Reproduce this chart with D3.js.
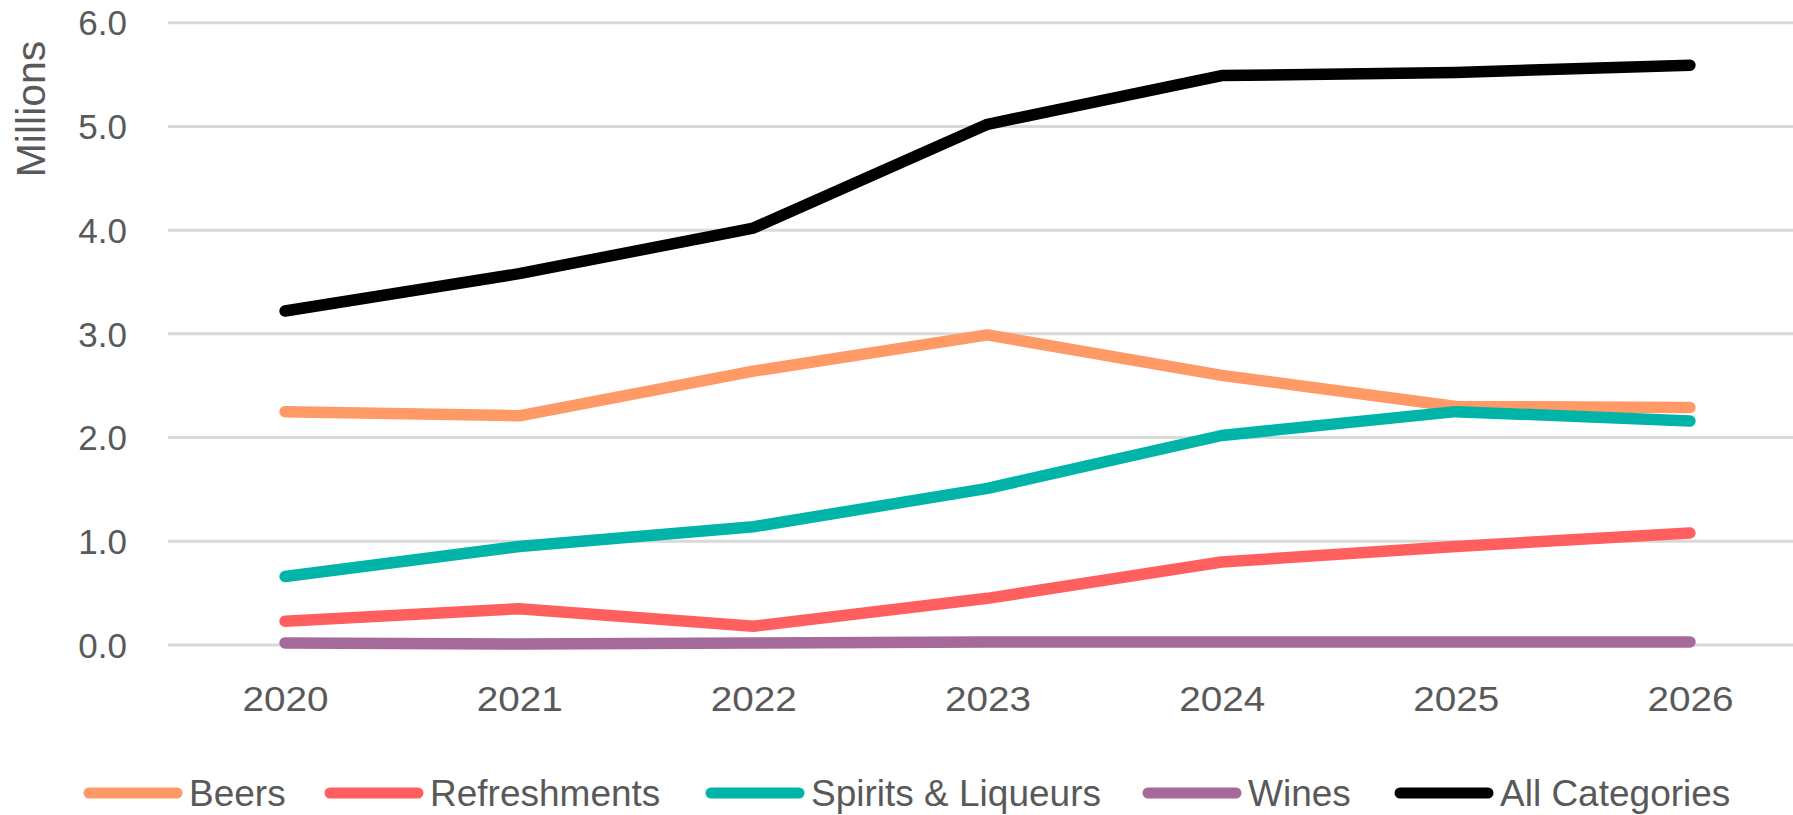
<!DOCTYPE html>
<html>
<head>
<meta charset="utf-8">
<script src="https://cdn.jsdelivr.net/npm/d3@7/dist/d3.min.js"></script>
<style>
  html, body { margin: 0; padding: 0; background: #fff; overflow: hidden; }
  svg { display: block; }
  .tick-label { font-family: "Liberation Sans", Arial, sans-serif; fill: #595959; }
  .legend-label { font-family: "Liberation Sans Narrow", "Liberation Sans", Arial, sans-serif; fill: #595959; }
</style>
</head>
<body>
<svg id="chart" width="1793" height="815"></svg>
<script>
// Years on the category axis
const years = ["2020", "2021", "2022", "2023", "2024", "2025", "2026"];

// Sales volume per category, in millions
const beers        = [2.25, 2.21, 2.64, 2.99, 2.60, 2.30, 2.29];
const refreshments = [0.23, 0.35, 0.18, 0.45, 0.80, 0.95, 1.08];
const spirits      = [0.66, 0.95, 1.14, 1.51, 2.02, 2.25, 2.16];
const wines        = [0.02, 0.01, 0.02, 0.03, 0.03, 0.03, 0.03];
const allCats      = [3.22, 3.58, 4.02, 5.02, 5.49, 5.52, 5.59];

// Value axis ticks
const yTicks = [0, 1, 2, 3, 4, 5, 6];

const seriesNames  = ["Beers", "Refreshments", "Spirits & Liqueurs", "Wines", "All Categories"];
const seriesValues = [beers, refreshments, spirits, wines, allCats];
const seriesColors = ["#FF9966", "#FF5F5F", "#00B5A8", "#A5699A", "#000000"];

const series = seriesNames.map((name, i) => ({
  name,
  color: seriesColors[i],
  values: seriesValues[i].map((v, j) => ({ year: years[j], value: v }))
}));

const svg = d3.select("#chart");

const plot = { left: 168, right: 1807, top: 22.7, bottom: 645 };

const x = d3.scalePoint()
  .domain(years)
  .range([plot.left, plot.right])
  .padding(0.5);

const y = d3.scaleLinear()
  .domain([0, 6])
  .range([plot.bottom, plot.top]);

// Horizontal gridlines
svg.append("g")
  .selectAll("line")
  .data(yTicks)
  .join("line")
  .attr("x1", plot.left)
  .attr("x2", plot.right)
  .attr("y1", d => y(d))
  .attr("y2", d => y(d))
  .attr("stroke", "#D9D9D9")
  .attr("stroke-width", 3);

// Value axis labels
const yAxis = d3.axisLeft(y)
  .tickValues(yTicks)
  .tickFormat(d3.format(".1f"))
  .tickSize(0)
  .tickPadding(0);

svg.append("g")
  .attr("transform", `translate(127,0)`)
  .call(yAxis)
  .call(g => g.select(".domain").remove())
  .call(g => g.selectAll("text")
    .attr("class", "tick-label")
    .attr("font-size", 35)
    .attr("dy", "0.35em"));

// Axis title
svg.append("text")
  .attr("class", "tick-label")
  .attr("font-size", 41)
  .attr("text-anchor", "middle")
  .attr("transform", `translate(45,109) rotate(-90)`)
  .text("Millions");

// Category axis labels
const xAxis = d3.axisBottom(x).tickSize(0).tickPadding(0);
svg.append("g")
  .attr("transform", `translate(0,699)`)
  .call(xAxis)
  .call(g => g.select(".domain").remove())
  .call(g => g.selectAll("text")
    .attr("class", "tick-label")
    .attr("font-size", 35)
    .attr("textLength", 86)
    .attr("lengthAdjust", "spacingAndGlyphs")
    .attr("dy", "0.35em"));

// Series lines
const line = d3.line()
  .x(d => x(d.year))
  .y(d => y(d.value));

svg.append("g")
  .selectAll("path")
  .data(series)
  .join("path")
  .attr("d", d => line(d.values))
  .attr("fill", "none")
  .attr("stroke", d => d.color)
  .attr("stroke-width", 11.5)
  .attr("stroke-linecap", "round")
  .attr("stroke-linejoin", "round");

// Legend
const legendX = [89, 330, 711, 1148, 1400];
const legendY = 793;
const legend = svg.append("g")
  .selectAll("g")
  .data(series)
  .join("g")
  .attr("transform", (d, i) => `translate(${legendX[i]},${legendY})`);

legend.append("line")
  .attr("x1", 0)
  .attr("x2", 88)
  .attr("stroke", d => d.color)
  .attr("stroke-width", 11)
  .attr("stroke-linecap", "round");

legend.append("text")
  .attr("class", "legend-label")
  .attr("x", 100)
  .attr("dy", "0.36em")
  .attr("font-size", 37)
  .text(d => d.name);
</script>
</body>
</html>
